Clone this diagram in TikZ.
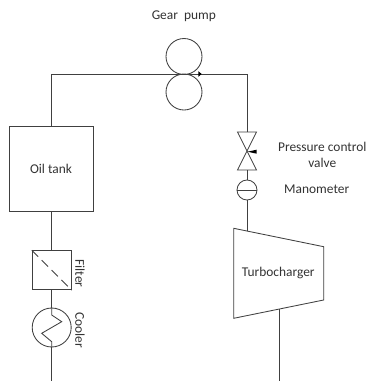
\documentclass[tikz,border=0pt]{standalone}
\usepackage{fontspec}
\setmainfont{Carlito}
\usetikzlibrary{calc}
\begin{document}
\begin{tikzpicture}[x=1pt,y=-1pt,
  ln/.style={draw=black!75,line width=0.85pt},
  lbl/.style={text=black!80,font=\fontsize{13.4}{16}\selectfont,inner sep=0pt,align=center}]
\useasboundingbox (0,0) rectangle (368,381);
\fill[white] (0,0) rectangle (368,381);
% nodes
\node[ln,circle,minimum size=36pt,inner sep=0pt] (p1) at (184,56.5) {};
\node[ln,circle,minimum size=36pt,inner sep=0pt] (p2) at (184,92) {};
\node[ln,minimum width=84pt,minimum height=85pt,inner sep=0pt,lbl] (tank) at (51,168.5) {Oil tank};
\node[ln,minimum width=39pt,minimum height=39pt,inner sep=0pt] (filter) at (51.7,270.2) {};
\node[ln,circle,minimum size=39pt,inner sep=0pt] (cooler) at (51.7,327.5) {};
\coordinate (va) at (237.5,132);
\coordinate (vb) at (256.5,132);
\coordinate (vc) at (237.5,170);
\coordinate (vd) at (256.5,170);
\coordinate (vm) at (247,151);
\node[ln,circle,minimum size=20pt,inner sep=0pt] (mano) at (247,190) {};
\coordinate (t1) at (233.7,228.3);
\coordinate (t2) at (323.7,246.7);
\coordinate (t3) at (323.7,300);
\coordinate (t4) at (233.7,318.3);
\node[lbl] (tlabel) at (278.3,272.7) {Turbocharger};
\coordinate (tin) at (247,231);
\coordinate (tout) at (279.3,309);
\coordinate (tl) at (51.5,74);
\coordinate (tr) at (247,74);
\coordinate (bl) at (51.7,381);
\coordinate (br) at (279.3,381);
% pipes
\draw[ln] (tank.north -| tl) -- (tl) -- (tr) -- (vm |- va);
\draw[ln] (tank.south -| filter) -- (filter.north);
\draw[ln] (filter.south) -- (cooler.north);
\draw[ln] (cooler.south) -- (bl);
\draw[ln] (br) -- (tout);
\draw[ln] (vm |- vc) -- (mano.north);
\draw[ln] (mano.south) -- (tin);
% pump direction mark
\fill[black] (198.3,71.2) -- (201.7,74) -- (198.3,76.8) -- cycle;
% valve
\draw[ln] (va) -- (vb) -- (vc) -- (vd) -- cycle;
\fill[black] (247.5,151.7) -- (256.7,149.7) -- (256.7,153.7) -- cycle;
% manometer bar
\draw[ln] (mano.west) -- (mano.east);
% filter diagonal
\draw[ln,dash pattern=on 9pt off 5pt] (filter.north west) -- (filter.south east);
% cooler zigzag
\draw[ln] (cooler.north) -- (51.7,315) -- (61.7,321.7) -- (41.7,333.3) -- (51.7,341.7) -- (cooler.south);
% turbocharger
\draw[ln] (t1) -- (t2) -- (t3) -- (t4) -- cycle;
% labels
\node[lbl] (gp) at (183.8,16.5) {Gear\ \ pump};
\node[lbl] (pcv) at (322.3,154.7) {Pressure control\\valve};
\node[lbl] (ml) at (316.7,189.5) {Manometer};
\node[lbl,rotate=-90] (fl) at (80,273.5) {Filter};
\node[lbl,rotate=-90] (cl) at (80,330) {Cooler};
\end{tikzpicture}
\end{document}
